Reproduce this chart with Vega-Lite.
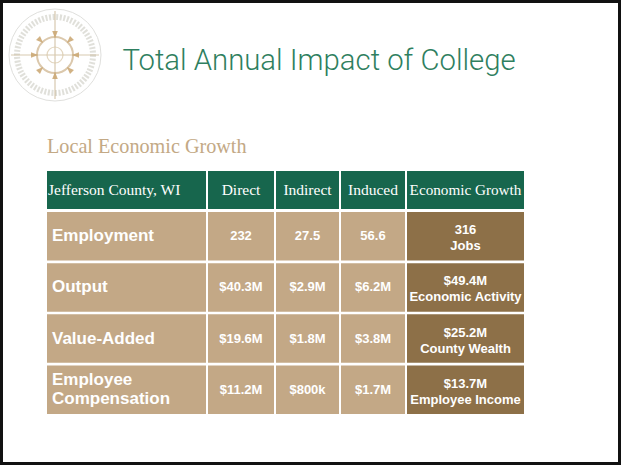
{
  "$schema": "https://vega.github.io/schema/vega-lite/v6.json",
  "padding": 0,
  "autosize": {"type": "pad"},
  "background": "white",
  "config": {"view": {"stroke": null}, "font": "Liberation Sans"},
  "datasets": {
    "columns": [
      {"column": "Jefferson County, WI"},
      {"column": "Direct"},
      {"column": "Indirect"},
      {"column": "Induced"},
      {"column": "Economic Growth"}
    ],
    "impact": [
      {"metric": "Employment", "direct": "232", "indirect": "27.5", "induced": "56.6", "total": "316", "totalLabel": "Jobs"},
      {"metric": "Output", "direct": "$40.3M", "indirect": "$2.9M", "induced": "$6.2M", "total": "$49.4M", "totalLabel": "Economic Activity"},
      {"metric": "Value-Added", "direct": "$19.6M", "indirect": "$1.8M", "induced": "$3.8M", "total": "$25.2M", "totalLabel": "County Wealth"},
      {"metric": "Employee Compensation", "direct": "$11.2M", "indirect": "$800k", "induced": "$1.7M", "total": "$13.7M", "totalLabel": "Employee Income"}
    ],
    "slide": [{"title": "Total Annual Impact of College"}]
  },
  "spacing": 0,
  "vconcat": [
    {"width": 621, "height": 3, "view": {"fill": "#111111"}, "data": {"values": []}, "mark": "rect"},
    {
      "spacing": 0,
      "hconcat": [
        {"width": 3, "height": 459, "view": {"fill": "#111111"}, "data": {"values": []}, "mark": "rect"},
        {"width": 2, "height": 1, "view": {"fill": "white"}, "data": {"values": []}, "mark": "rect"},
        {
          "spacing": 17,
          "vconcat": [
            {
              "spacing": 9,
              "hconcat": [
                {
                  "width": 100,
                  "height": 104,
                  "data": {"name": "slide"},
                  "layer": [
                    {"mark": {"type": "point", "shape": "circle", "size": 8464, "filled": false, "stroke": "#d3d3cf", "strokeWidth": 1}, "encoding": {}},
                    {"mark": {"type": "point", "shape": "circle", "size": 5776, "filled": false, "stroke": "#9c9a88", "strokeWidth": 6, "strokeDash": [2, 1.6], "opacity": 0.3}, "encoding": {}},
                    {"mark": {"type": "point", "shape": "M-1,0H1M0,-1V1", "size": 7744, "filled": false, "stroke": "#c8b38f", "strokeWidth": 1.2}, "encoding": {}},
                    {"mark": {"type": "point", "shape": "circle", "size": 1296, "filled": false, "stroke": "#cdb28a", "strokeWidth": 2}, "encoding": {}},
                    {"mark": {"type": "point", "shape": "M0.42,0L0.6,-0.07L0.6,0.07ZM0,0.42L0.07,0.6L-0.07,0.6ZM-0.42,0L-0.6,0.07L-0.6,-0.07ZM0,-0.42L-0.07,-0.6L0.07,-0.6ZM0.297,0.297L0.375,0.474L0.474,0.375ZM-0.297,0.297L-0.474,0.375L-0.375,0.474ZM-0.297,-0.297L-0.375,-0.474L-0.474,-0.375ZM0.297,-0.297L0.474,-0.375L0.375,-0.474Z", "size": 6400, "filled": true, "fill": "#c9a46e", "strokeWidth": 0, "opacity": 0.85}, "encoding": {}},
                    {"mark": {"type": "point", "shape": "circle", "size": 256, "filled": false, "stroke": "#d8c6a6", "strokeWidth": 1.2}, "encoding": {}}
                  ]
                },
                {
                  "width": 410,
                  "height": 116,
                  "data": {"name": "slide"},
                  "mark": {"type": "text", "font": "Roboto", "fontWeight": 300, "fontSize": 29.3, "color": "#2f7f60", "align": "center", "baseline": "middle"},
                  "encoding": {"text": {"field": "title"}}
                }
              ]
            },
            {
              "spacing": 2,
              "hconcat": [
                {"width": 40, "height": 1, "view": {"fill": "white"}, "data": {"values": []}, "mark": "rect"},
                {
                  "title": {"text": "Local Economic Growth", "anchor": "start", "font": "Liberation Serif", "fontSize": 20.2, "fontWeight": "normal", "color": "#c3a985", "offset": 14},
                  "spacing": 3,
                  "vconcat": [
                    {
                      "spacing": 2,
                      "hconcat": [
                        {
                          "width": 159, "height": 38, "view": {"fill": "#17664d"},
                          "data": {"name": "columns"},
                          "transform": [{"filter": "datum.column === 'Jefferson County, WI'"}],
                          "mark": {"type": "text", "font": "Liberation Serif", "fontSize": 15.5, "color": "white", "align": "left", "baseline": "middle", "dx": 1},
                          "encoding": {
                            "x": {"datum": 0, "type": "quantitative", "scale": {"domain": [0, 1], "zero": false, "nice": false}, "axis": null},
                            "text": {"field": "column"}
                          }
                        },
                        {
                          "width": 66, "height": 38, "view": {"fill": "#17664d"},
                          "data": {"name": "columns"},
                          "transform": [{"filter": "datum.column === 'Direct'"}],
                          "mark": {"type": "text", "font": "Liberation Serif", "fontSize": 15.5, "color": "white", "baseline": "middle"},
                          "encoding": {"text": {"field": "column"}}
                        },
                        {
                          "width": 63, "height": 38, "view": {"fill": "#17664d"},
                          "data": {"name": "columns"},
                          "transform": [{"filter": "datum.column === 'Indirect'"}],
                          "mark": {"type": "text", "font": "Liberation Serif", "fontSize": 15.5, "color": "white", "baseline": "middle"},
                          "encoding": {"text": {"field": "column"}}
                        },
                        {
                          "width": 64, "height": 38, "view": {"fill": "#17664d"},
                          "data": {"name": "columns"},
                          "transform": [{"filter": "datum.column === 'Induced'"}],
                          "mark": {"type": "text", "font": "Liberation Serif", "fontSize": 15.5, "color": "white", "baseline": "middle"},
                          "encoding": {"text": {"field": "column"}}
                        },
                        {
                          "width": 117, "height": 38, "view": {"fill": "#17664d"},
                          "data": {"name": "columns"},
                          "transform": [{"filter": "datum.column === 'Economic Growth'"}],
                          "mark": {"type": "text", "font": "Liberation Serif", "fontSize": 15.2, "color": "white", "baseline": "middle"},
                          "encoding": {"text": {"field": "column"}}
                        }
                      ]
                    },
                    {
                      "spacing": 2,
                      "hconcat": [
                        {
                          "width": 159, "height": 202,
                          "data": {"name": "impact"},
                          "layer": [
                            {"mark": {"type": "rect", "color": "#c3a886"},
                             "encoding": {"y": {"field": "metric", "type": "nominal", "sort": null, "axis": null, "scale": {"paddingInner": 0.05, "paddingOuter": 0}}}},
                            {"transform": [{"filter": "datum.metric !== 'Employee Compensation'"}],
                             "mark": {"type": "text", "color": "white", "fontWeight": "bold", "fontSize": 17, "align": "left", "baseline": "middle", "dx": 5},
                             "encoding": {
                               "y": {"field": "metric", "type": "nominal", "sort": null, "axis": null, "scale": {"paddingInner": 0.05, "paddingOuter": 0}},
                               "x": {"datum": 0, "type": "quantitative", "scale": {"domain": [0, 1], "zero": false, "nice": false}, "axis": null},
                               "text": {"field": "metric"}
                             }},
                            {"transform": [{"filter": "datum.metric === 'Employee Compensation'"}],
                             "mark": {"type": "text", "color": "white", "fontWeight": "bold", "fontSize": 17, "align": "left", "baseline": "middle", "dx": 5, "dy": -9.75, "lineBreak": " ", "lineHeight": 19.5},
                             "encoding": {
                               "y": {"field": "metric", "type": "nominal", "sort": null, "axis": null, "scale": {"paddingInner": 0.05, "paddingOuter": 0}},
                               "x": {"datum": 0, "type": "quantitative", "scale": {"domain": [0, 1], "zero": false, "nice": false}, "axis": null},
                               "text": {"field": "metric"}
                             }}
                          ]
                        },
                        {
                          "width": 66, "height": 202,
                          "data": {"name": "impact"},
                          "layer": [
                            {"mark": {"type": "rect", "color": "#c3a886"},
                             "encoding": {"y": {"field": "metric", "type": "nominal", "sort": null, "axis": null, "scale": {"paddingInner": 0.05, "paddingOuter": 0}}}},
                            {"mark": {"type": "text", "color": "white", "fontWeight": "bold", "fontSize": 13, "baseline": "middle"},
                             "encoding": {
                               "y": {"field": "metric", "type": "nominal", "sort": null, "axis": null, "scale": {"paddingInner": 0.05, "paddingOuter": 0}},
                               "text": {"field": "direct"}
                             }}
                          ]
                        },
                        {
                          "width": 63, "height": 202,
                          "data": {"name": "impact"},
                          "layer": [
                            {"mark": {"type": "rect", "color": "#c3a886"},
                             "encoding": {"y": {"field": "metric", "type": "nominal", "sort": null, "axis": null, "scale": {"paddingInner": 0.05, "paddingOuter": 0}}}},
                            {"mark": {"type": "text", "color": "white", "fontWeight": "bold", "fontSize": 13, "baseline": "middle"},
                             "encoding": {
                               "y": {"field": "metric", "type": "nominal", "sort": null, "axis": null, "scale": {"paddingInner": 0.05, "paddingOuter": 0}},
                               "text": {"field": "indirect"}
                             }}
                          ]
                        },
                        {
                          "width": 64, "height": 202,
                          "data": {"name": "impact"},
                          "layer": [
                            {"mark": {"type": "rect", "color": "#c3a886"},
                             "encoding": {"y": {"field": "metric", "type": "nominal", "sort": null, "axis": null, "scale": {"paddingInner": 0.05, "paddingOuter": 0}}}},
                            {"mark": {"type": "text", "color": "white", "fontWeight": "bold", "fontSize": 13, "baseline": "middle"},
                             "encoding": {
                               "y": {"field": "metric", "type": "nominal", "sort": null, "axis": null, "scale": {"paddingInner": 0.05, "paddingOuter": 0}},
                               "text": {"field": "induced"}
                             }}
                          ]
                        },
                        {
                          "width": 117, "height": 202,
                          "data": {"name": "impact"},
                          "layer": [
                            {"mark": {"type": "rect", "color": "#8d7048"},
                             "encoding": {"y": {"field": "metric", "type": "nominal", "sort": null, "axis": null, "scale": {"paddingInner": 0.05, "paddingOuter": 0}}}},
                            {"mark": {"type": "text", "color": "white", "fontWeight": "bold", "fontSize": 13, "baseline": "bottom", "dy": 1},
                             "encoding": {
                               "y": {"field": "metric", "type": "nominal", "sort": null, "axis": null, "scale": {"paddingInner": 0.05, "paddingOuter": 0}},
                               "text": {"field": "total"}
                             }},
                            {"mark": {"type": "text", "color": "white", "fontWeight": "bold", "fontSize": 13, "baseline": "top", "dy": 4},
                             "encoding": {
                               "y": {"field": "metric", "type": "nominal", "sort": null, "axis": null, "scale": {"paddingInner": 0.05, "paddingOuter": 0}},
                               "text": {"field": "totalLabel"}
                             }}
                          ]
                        }
                      ]
                    }
                  ]
                }
              ]
            }
          ]
        },
        {"width": 94, "height": 1, "view": {"fill": "white"}, "data": {"values": []}, "mark": "rect"},
        {"width": 3, "height": 459, "view": {"fill": "#111111"}, "data": {"values": []}, "mark": "rect"}
      ]
    },
    {"width": 621, "height": 3, "view": {"fill": "#111111"}, "data": {"values": []}, "mark": "rect"}
  ]
}
